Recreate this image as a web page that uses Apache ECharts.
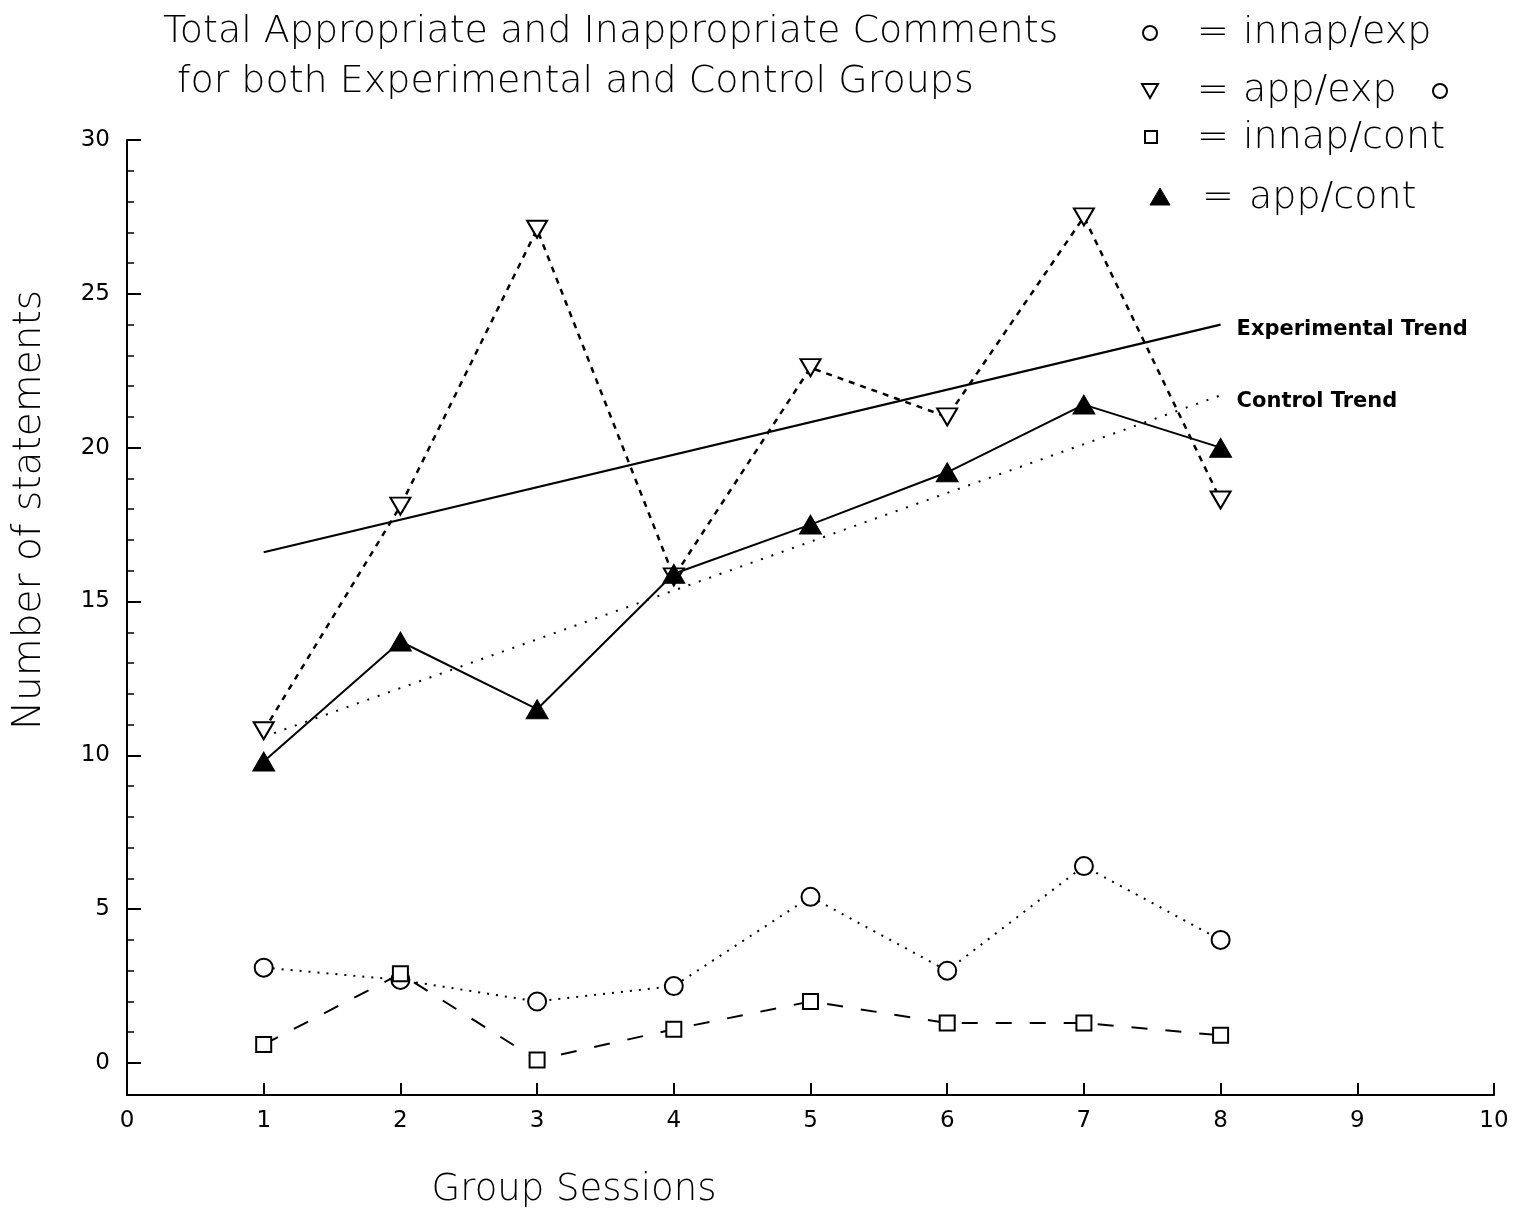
<!DOCTYPE html>
<html>
<head>
<meta charset="utf-8">
<script src="https://cdn.jsdelivr.net/npm/echarts@6/dist/echarts.min.js"></script>
<style>
html,body{margin:0;padding:0;background:#fff;}
#chart{width:1516px;height:1213px;}
</style>
</head>
<body>
<div id="chart"></div>
<script>
// ---- data ----
var sessions = [1, 2, 3, 4, 5, 6, 7, 8];
var innapExp  = [3.1, 2.7, 2.0, 2.5, 5.4, 3.0, 6.4, 4.0];
var appExp    = [10.8, 18.1, 27.1, 15.8, 22.6, 21.0, 27.5, 18.3];
var innapCont = [0.6, 2.9, 0.1, 1.1, 2.0, 1.3, 1.3, 0.9];
var appCont   = [9.8, 13.7, 11.5, 15.9, 17.5, 19.2, 21.4, 20.0];
var trendX    = [1, 8];
var expTrend  = [16.6, 24.0];
var contTrend = [10.6, 21.7];
var yMajorTicks = [0, 5, 10, 15, 20, 25, 30];
var yMinorTicks = [1,2,3,4,6,7,8,9,11,12,13,14,16,17,18,19,21,22,23,24,26,27,28,29];
var titleLines = ['Total Appropriate and Inappropriate Comments', 'for both Experimental and Control Groups'];
var legendLabels = ['innap/exp', 'app/exp', 'innap/cont', 'app/cont'];

function pairs(xs, ys){ return xs.map(function(x,i){ return [x, ys[i]]; }); }

var FONT = 'DejaVu Sans';
var BIG = '200 38px "' + FONT + '"';
var chart = echarts.init(document.getElementById('chart'));

var hollow = {color:'#fff', borderColor:'#000', borderWidth:2};

var option = {
  backgroundColor:'#fff',
  animation:false,
  grid:{left:127, right:22, top:140, bottom:118},
  xAxis:{
    type:'value', min:0, max:10, interval:1,
    axisLine:{show:true, onZero:false, lineStyle:{color:'#000', width:2}},
    axisTick:{show:true, inside:true, length:12, lineStyle:{color:'#000', width:2}},
    axisLabel:{color:'#000', fontSize:23, fontFamily:FONT, margin:15},
    splitLine:{show:false}
  },
  yAxis:[{
    type:'value', min:-1.04, max:30,
    axisLine:{show:true, onZero:false, lineStyle:{color:'#000', width:2}},
    axisTick:{show:true, inside:true, length:14, customValues:yMajorTicks, lineStyle:{color:'#000', width:2}},
    axisLabel:{show:true, customValues:yMajorTicks, color:'#000', fontSize:23, fontFamily:FONT, margin:17},
    splitLine:{show:false}
  },{
    type:'value', min:-1.04, max:30, position:'left',
    axisLine:{show:false},
    axisTick:{show:true, inside:true, length:7, customValues:yMinorTicks, lineStyle:{color:'#000', width:1.5}},
    axisLabel:{show:false},
    splitLine:{show:false}
  }],
  series:[
    {name:'Experimental Trend', type:'line', data:pairs(trendX, expTrend), symbol:'none',
     lineStyle:{color:'#000', width:2.2, type:'solid'},
     endLabel:{show:true, formatter:'Experimental Trend', color:'#000', fontSize:21, fontWeight:'bold', fontFamily:FONT, distance:16, offset:[0,5]}},
    {name:'Control Trend', type:'line', data:pairs(trendX, contTrend), symbol:'none',
     lineStyle:{color:'#000', width:2, type:[2,9]},
     endLabel:{show:true, formatter:'Control Trend', color:'#000', fontSize:21, fontWeight:'bold', fontFamily:FONT, distance:16, offset:[0,6]}},
    {name:'innap/exp', type:'line', data:pairs(sessions, innapExp), symbol:'circle', symbolSize:18,
     itemStyle:hollow, lineStyle:{color:'#000', width:2, type:[2,7]}, z:3},
    {name:'app/exp', type:'line', data:pairs(sessions, appExp), symbol:'triangle', symbolRotate:180, symbolSize:[20,17],
     itemStyle:hollow, lineStyle:{color:'#000', width:2.5, type:[6,6]}, z:3},
    {name:'innap/cont', type:'line', data:pairs(sessions, innapCont), symbol:'rect', symbolSize:15,
     itemStyle:hollow, lineStyle:{color:'#000', width:2, type:[16,18]}, z:3},
    {name:'app/cont', type:'line', data:pairs(sessions, appCont), symbol:'triangle', symbolSize:[22,19],
     itemStyle:{color:'#000', borderColor:'#000', borderWidth:1}, lineStyle:{color:'#000', width:2, type:'solid'}, z:4}
  ],
  graphic:[
    {type:'text', left:163, top:13, style:{text:titleLines[0], font:BIG, fill:'#000'}},
    {type:'text', left:177, top:63, style:{text:titleLines[1], font:BIG, fill:'#000'}},
    // legend symbols
    {type:'circle', shape:{cx:1150, cy:33, r:7}, style:{fill:'#fff', stroke:'#000', lineWidth:2}},
    {type:'polygon', shape:{points:[[1142,84],[1158,84],[1150,98]]}, style:{fill:'#fff', stroke:'#000', lineWidth:2}},
    {type:'rect', shape:{x:1145, y:131, width:12, height:12}, style:{fill:'#fff', stroke:'#000', lineWidth:2}},
    {type:'polygon', shape:{points:[[1150,205],[1170,205],[1160,188]]}, style:{fill:'#000', stroke:'#000', lineWidth:1}},
    {type:'text', left:1197, top:14, style:{text:'=', font:BIG, fill:'#000'}},
    {type:'text', left:1243, top:14, style:{text:legendLabels[0], font:BIG, fill:'#000'}},
    {type:'text', left:1197, top:72, style:{text:'=', font:BIG, fill:'#000'}},
    {type:'text', left:1243, top:72, style:{text:legendLabels[1], font:BIG, fill:'#000'}},
    {type:'circle', shape:{cx:1440, cy:91, r:7}, style:{fill:'#fff', stroke:'#000', lineWidth:2}},
    {type:'text', left:1197, top:119, style:{text:'=', font:BIG, fill:'#000'}},
    {type:'text', left:1243, top:119, style:{text:legendLabels[2], font:BIG, fill:'#000'}},
    {type:'text', left:1202, top:179, style:{text:'=', font:BIG, fill:'#000'}},
    {type:'text', left:1249, top:179, style:{text:legendLabels[3], font:BIG, fill:'#000'}},
    // axis names
    {type:'text', x:30, y:510, rotation:Math.PI/2, style:{text:'Number of statements', font:'200 39px "'+FONT+'"', fill:'#000', align:'center', verticalAlign:'middle'}},
    {type:'text', x:574, y:1190, style:{text:'Group Sessions', font:'200 37px "'+FONT+'"', fill:'#000', align:'center', verticalAlign:'middle'}}
  ]
};
chart.setOption(option);
</script>
</body>
</html>
